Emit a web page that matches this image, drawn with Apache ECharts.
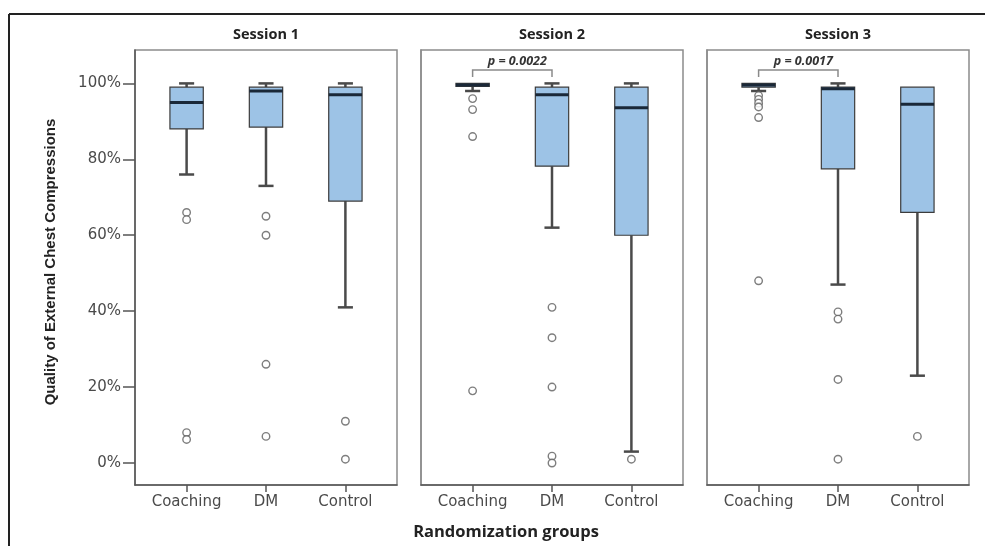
<!DOCTYPE html>
<html><head><meta charset="utf-8">
<script src="https://cdn.jsdelivr.net/npm/echarts@6/dist/echarts.min.js"></script>
<style>html,body{margin:0;padding:0;background:#fff}#c{width:985px;height:546px}</style>
</head><body><div id="c"></div>
<script>
const sessions = ['Session 1', 'Session 2', 'Session 3'];
const groups = ['Coaching', 'DM', 'Control'];
const yTicks = [0, 20, 40, 60, 80, 100];
// [lower whisker, Q1, median, Q3, upper whisker] for Coaching, DM, Control
const session1Boxes = [[76, 88, 95, 99, 100], [73, 88.5, 98, 99, 100], [41, 69, 97, 99, 100]];
const session2Boxes = [[98, 99.2, 99.6, 100, 100], [62, 78.2, 97, 99, 100], [3, 60, 93.6, 99, 100]];
const session3Boxes = [[98, 99, 99.6, 100, 100], [47, 77.5, 98.6, 99, 100], [23, 66, 94.5, 99, 99]];
// outliers for Coaching, DM, Control
const session1Outliers = [[66.0, 64.1, 8.0, 6.2], [65, 60, 26, 7], [11, 1]];
const session2Outliers = [[96, 93.1, 86, 19], [41, 33, 20, 1.8, 0], [1]];
const session3Outliers = [[96.8, 95.8, 94.8, 93.8, 91, 48], [39.8, 37.9, 22, 1], [7]];
const pValues = ['', 'p = 0.0022', 'p = 0.0017'];
const pPairs = [null, [0, 1], [0, 1]];

const allBoxes = [session1Boxes, session2Boxes, session3Boxes];
const allOutliers = [session1Outliers, session2Outliers, session3Outliers];

const PANEL_LEFT = 135, PANEL_STEP = 286, PANEL_W = 262, PANEL_TOP = 50, PANEL_H = 435;

function renderBox(params, api) {
  const x = api.value(0);
  const vMin = api.value(1), vQ1 = api.value(2), vMed = api.value(3), vQ3 = api.value(4), vMax = api.value(5);
  const mn = api.coord([x, vMin]);
  const q1 = api.coord([x, vQ1]);
  const md = api.coord([x, vMed]);
  const q3 = api.coord([x, vQ3]);
  const mx = api.coord([x, vMax]);
  const unit = api.size([1, 0])[0];
  const hb = unit * 0.21, hc = unit * 0.095;
  const cx = q1[0];
  const wl = { stroke: '#4a4a4a', lineWidth: 2.5 };
  const children = [];
  if (vMin < vQ1) {
    children.push({ type: 'line', shape: { x1: cx, y1: q1[1], x2: cx, y2: mn[1] }, style: wl });
    children.push({ type: 'line', shape: { x1: cx - hc, y1: mn[1], x2: cx + hc, y2: mn[1] }, style: wl });
  }
  if (vMax > vQ3) {
    children.push({ type: 'line', shape: { x1: cx, y1: q3[1], x2: cx, y2: mx[1] }, style: wl });
    children.push({ type: 'line', shape: { x1: cx - hc, y1: mx[1], x2: cx + hc, y2: mx[1] }, style: wl });
  }
  children.push({ type: 'rect', shape: { x: cx - hb, y: q3[1], width: 2 * hb, height: Math.max(q1[1] - q3[1], 2) },
    style: { fill: '#9dc3e6', stroke: '#3c3c3c', lineWidth: 1.2 } });
  children.push({ type: 'line', shape: { x1: cx - hb, y1: md[1], x2: cx + hb, y2: md[1] },
    style: { stroke: '#1a2838', lineWidth: 3 } });
  return { type: 'group', children };
}

function makeBracket(label) {
  return function (params, api) {
    const a = api.value(0), b = api.value(1);
    const top = 103.5, end = 101.7;
    const p1 = api.coord([a, end]), p2 = api.coord([a, top]);
    const p3 = api.coord([b, top]), p4 = api.coord([b, end]);
    const mid = api.coord([(a + b) / 2, top]);
    const st = { stroke: '#8a8a8a', lineWidth: 1.5, fill: null };
    return { type: 'group', children: [
      { type: 'polyline', shape: { points: [p1, p2, p3, p4] }, style: st },
      { type: 'text', style: { text: label, x: mid[0] + 5, y: mid[1] - 2, align: 'center', verticalAlign: 'bottom',
        font: 'italic bold 12.5px "Open Sans", sans-serif', fill: '#333' } }
    ] };
  };
}

const grid = [], xAxis = [], yAxis = [], series = [];
sessions.forEach((s, i) => {
  grid.push({ left: PANEL_LEFT + i * PANEL_STEP, top: PANEL_TOP, width: PANEL_W, height: PANEL_H,
    show: true, borderColor: '#8c8c8c', borderWidth: 1.5, backgroundColor: '#fff' });
  xAxis.push({ type: 'value', gridIndex: i, min: -0.65, max: 2.65,
    splitLine: { show: false },
    axisLine: { show: true, onZero: false, lineStyle: { color: '#555', width: 1.5 } },
    axisTick: { show: true, customValues: [0, 1, 2], length: 7, lineStyle: { color: '#555', width: 1.5 } },
    axisLabel: { show: true, customValues: [0, 1, 2], formatter: v => groups[Math.round(v)] || '',
      fontSize: 15, fontFamily: '"DejaVu Sans", sans-serif', color: '#4a4a4a', margin: 10 } });
  yAxis.push({ type: 'value', gridIndex: i, min: -5.8, max: 108.8,
    splitLine: { show: false },
    axisLine: { show: true, onZero: false, lineStyle: { color: i === 0 ? '#555' : '#8c8c8c', width: 1.5 } },
    axisTick: { show: i === 0, customValues: yTicks, length: 12, lineStyle: { color: '#555', width: 1.5 } },
    axisLabel: { show: i === 0, customValues: yTicks, formatter: v => v + '%',
      fontSize: 15, fontFamily: '"DejaVu Sans", sans-serif', color: '#4a4a4a', margin: 14 } });
  series.push({ type: 'custom', xAxisIndex: i, yAxisIndex: i, renderItem: renderBox,
    encode: { x: 0, y: [1, 2, 3, 4, 5] }, silent: true,
    data: allBoxes[i].map((b, j) => [j].concat(b)) });
  const pts = [];
  allOutliers[i].forEach((arr, j) => arr.forEach(v => pts.push([j, v])));
  series.push({ type: 'scatter', xAxisIndex: i, yAxisIndex: i, symbol: 'circle', symbolSize: 7.5,
    itemStyle: { color: '#fff', borderColor: '#5e5e5e', borderWidth: 1.4 }, silent: true, z: 5, data: pts });
  if (pValues[i]) {
    series.push({ type: 'custom', xAxisIndex: i, yAxisIndex: i, renderItem: makeBracket(pValues[i]),
      encode: { x: [0, 1] }, silent: true, data: [pPairs[i]] });
  }
});

const graphic = [
  { type: 'line', shape: { x1: 9, y1: 14, x2: 985, y2: 14 }, style: { stroke: '#222', lineWidth: 2 } },
  { type: 'line', shape: { x1: 9, y1: 14, x2: 9, y2: 546 }, style: { stroke: '#222', lineWidth: 2 } },
  { type: 'text', x: 51, y: 262, rotation: Math.PI / 2,
    style: { text: 'Quality of External Chest Compressions', align: 'center', verticalAlign: 'middle',
      font: 'bold 15px "Liberation Sans", Arial, sans-serif', fill: '#222' } },
  { type: 'text', x: 506, y: 532,
    style: { text: 'Randomization groups', align: 'center', verticalAlign: 'middle',
      font: 'bold 16.5px "Open Sans", sans-serif', fill: '#222' } }
];
sessions.forEach((s, i) => {
  graphic.push({ type: 'text', x: PANEL_LEFT + i * PANEL_STEP + PANEL_W / 2, y: 35,
    style: { text: s, align: 'center', verticalAlign: 'middle', font: 'bold 14.5px "Open Sans", sans-serif', fill: '#222' } });
});

const chart = echarts.init(document.getElementById('c'), null, { renderer: 'canvas' });
chart.setOption({ animation: false, backgroundColor: '#fff', grid, xAxis, yAxis, series, graphic });
</script>
</body></html>
